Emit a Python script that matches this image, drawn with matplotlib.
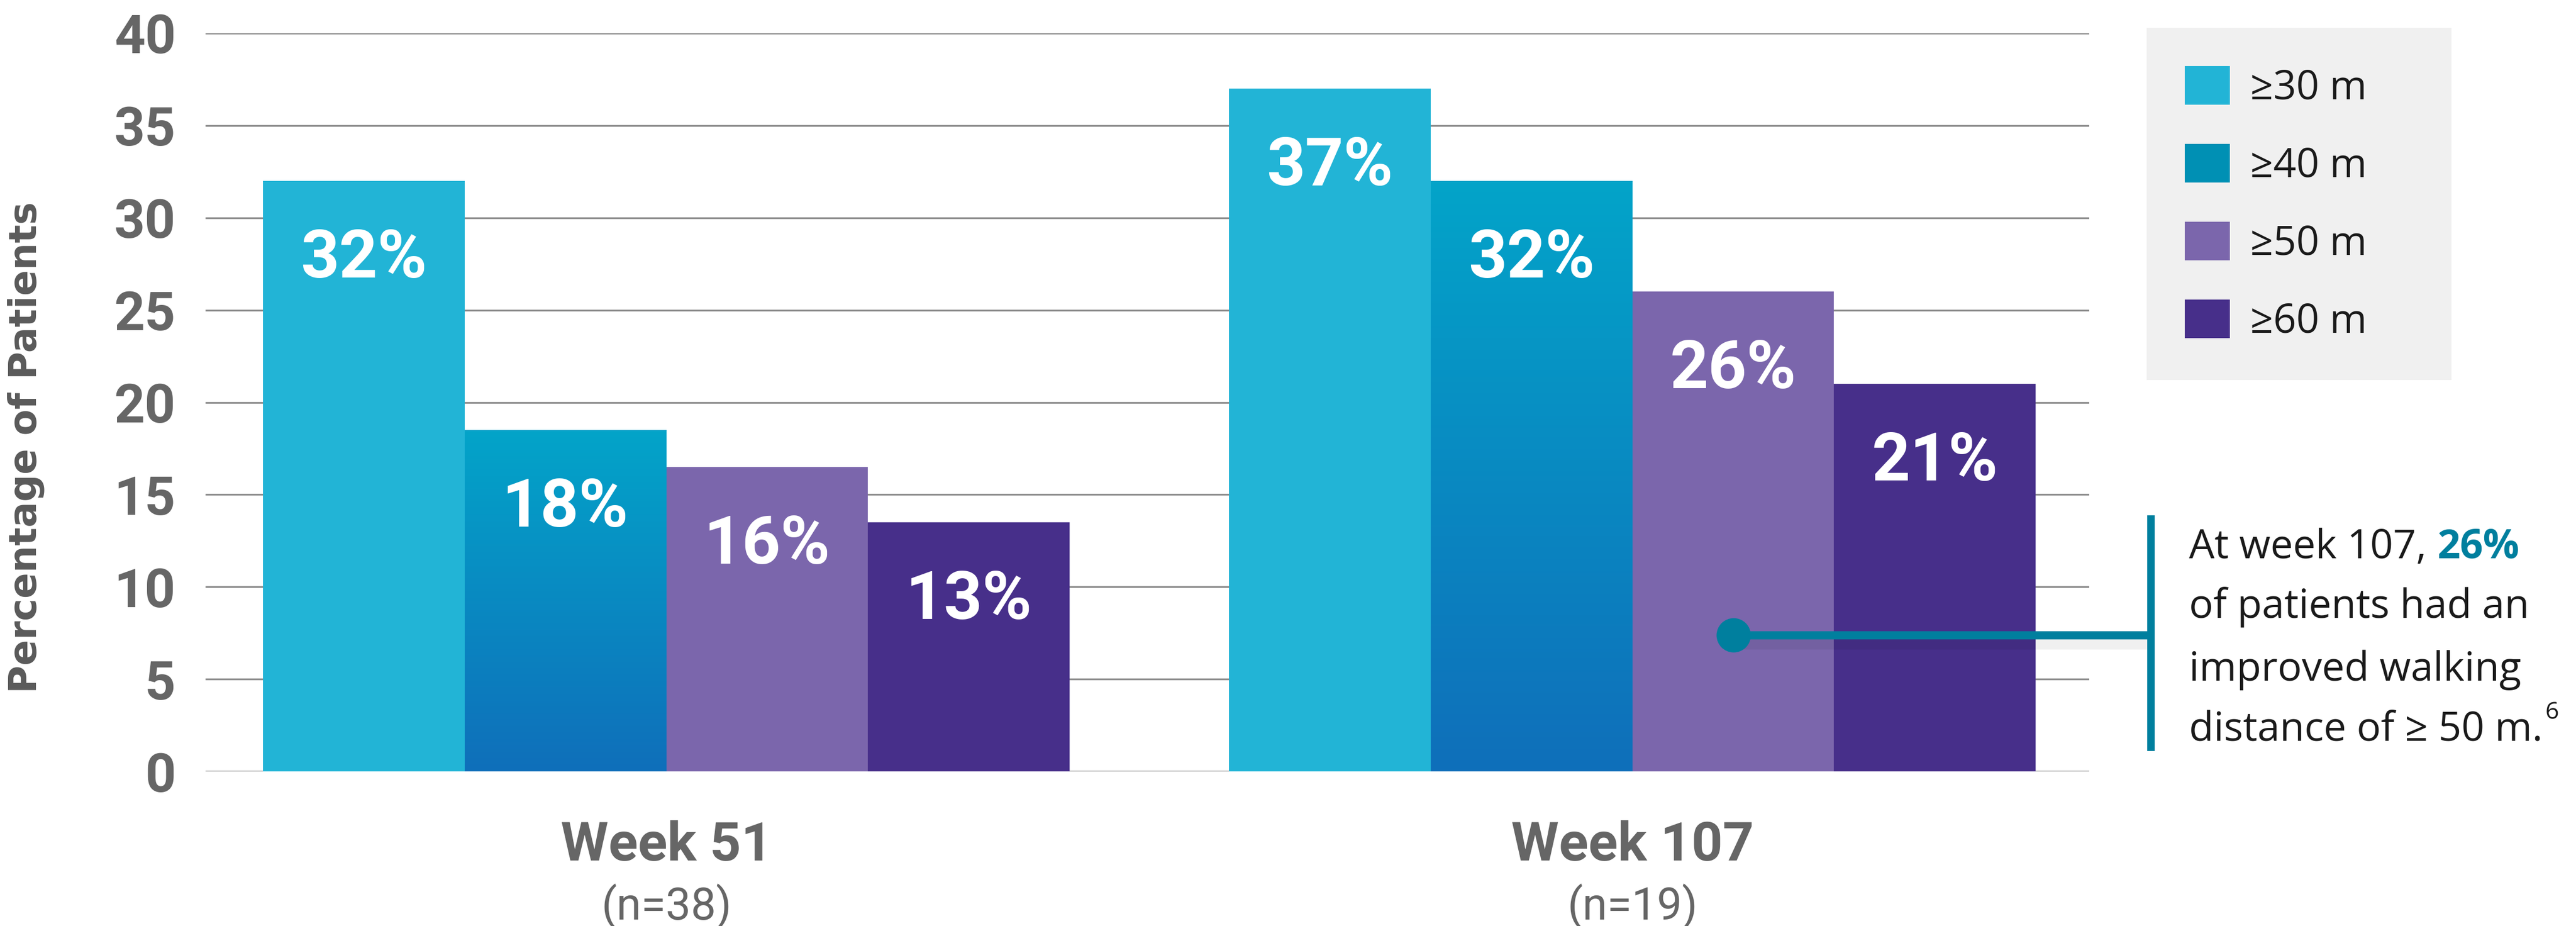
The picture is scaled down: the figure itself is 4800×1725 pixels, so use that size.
import matplotlib
matplotlib.use("Agg")
import matplotlib.pyplot as plt
import numpy as np
from matplotlib.colors import LinearSegmentedColormap

# ── Data ──
weeks = ["Week 51", "Week 107"]
n_labels = ["(n=38)", "(n=19)"]
series_labels = ["≥30 m", "≥40 m", "≥50 m", "≥60 m"]
week51 = [32, 18.5, 16.5, 13.5]
week107 = [37, 32, 26, 21]
week51_text = ["32%", "18%", "16%", "13%"]
week107_text = ["37%", "32%", "26%", "21%"]
y_ticks = [0, 5, 10, 15, 20, 25, 30, 35, 40]

# ── Style ──
COLORS = ["#22B4D6", "#0090B4", "#7B66AC", "#472F8A"]
GRAD_TOP, GRAD_BOT = "#03A4C9", "#0F6FBA"
GRID_C = "#8c8c8c"
GRAY_TXT = "#666666"
TEAL = "#007F9E"
DARK = "#1a1a1a"
W, H, DPI = 4800, 1725, 100
BAR_W = 0.2088


def px(x, y):
    # pixel (from top-left) -> figure fraction
    return x / W, 1 - y / H


fig = plt.figure(figsize=(W / DPI, H / DPI), dpi=DPI)
fig.patch.set_facecolor("white")
ax = fig.add_axes([383 / W, 288 / H, (3893 - 383) / W, (1437 - 62) / H])

x = np.arange(len(weeks))
values = np.array([week51, week107])
texts = [week51_text, week107_text]

containers = []
for i, lab in enumerate(series_labels):
    pos = x + (i - 1.5) * BAR_W
    bc = ax.bar(pos, values[:, i], BAR_W, color=COLORS[i], label=lab,
                zorder=2, linewidth=0)
    containers.append(bc)
    for j, rect in enumerate(bc):
        ax.text(rect.get_x() + rect.get_width() / 2, rect.get_height() - 5.23,
                texts[j][i], ha="center", va="baseline", color="white",
                fontsize=90, fontweight="bold", family="Roboto", zorder=4)

# gradient on the ≥40 m bars
cmap = LinearSegmentedColormap.from_list("g40", [GRAD_BOT, GRAD_TOP])
for rect in containers[1]:
    x0, h = rect.get_x(), rect.get_height()
    im = ax.imshow(np.linspace(0, 1, 256).reshape(-1, 1), cmap=cmap,
                   origin="lower", aspect="auto", zorder=3,
                   extent=(x0, x0 + rect.get_width(), 0, h))
    im.set_clip_path(rect)

ax.set_xlim(-0.477, 1.473)
ax.set_ylim(0, 40)
ax.set_yticks(y_ticks)
ax.set_xticks([])
ax.yaxis.grid(True, color=GRID_C, linewidth=2.4)
ax.set_axisbelow(True)
for s in ax.spines.values():
    s.set_visible(False)
ax.tick_params(axis="y", length=0, pad=40, labelsize=72, labelcolor=GRAY_TXT)
for t in ax.get_yticklabels():
    t.set_fontweight("bold")
    t.set_family("Roboto")

# x labels
xt = ax.get_xaxis_transform()
for j, (wk, nl) in enumerate(zip(weeks, n_labels)):
    ax.text(x[j], -(1603 - 1437) / 1375, wk, transform=xt, ha="center",
            va="baseline", fontsize=73, fontweight="bold", color=GRAY_TXT,
            family="Roboto")
    ax.text(x[j], -(1713 - 1437) / 1375, nl, transform=xt, ha="center",
            va="baseline", fontsize=60, color=GRAY_TXT, family="Roboto")

# y label
fig.text(*px(48, 833), "Percentage of Patients", rotation=90, ha="center",
         va="center", fontsize=51, fontweight="bold", color="#5a5a5a",
         family="DejaVu Sans")

# legend
leg = ax.legend(handles=containers, loc="upper left",
                bbox_to_anchor=(4000 / W, 1 - 52 / H, 568 / W, 0),
                bbox_transform=fig.transFigure, mode="expand",
                prop={"family": ["Open Sans", "DejaVu Sans"], "size": 54},
                frameon=True, fancybox=False, facecolor="#F0F0F0",
                edgecolor="none", framealpha=1, borderpad=0.95,
                handlelength=1.12, handleheight=1.1, handletextpad=0.5,
                labelspacing=0.87, borderaxespad=0)
for t in leg.get_texts():
    t.set_color(DARK)

# annotation: dot on the ≥50 m bar of week 107 with leader line
dot_x = x[1] + 0.5 * BAR_W
dot_y = 7.38
bar_x = 1.537
ax.plot([dot_x, bar_x], [dot_y - 0.4, dot_y - 0.4], color="#000000",
        alpha=0.06, linewidth=18, solid_capstyle="butt", zorder=5, clip_on=False)
ax.plot([dot_x, bar_x], [dot_y, dot_y], color=TEAL, linewidth=11,
        solid_capstyle="butt", zorder=6, clip_on=False)
ax.plot([dot_x], [dot_y], "o", color=TEAL, markersize=45, zorder=7,
        clip_on=False)
ax.plot([bar_x, bar_x], [1.1, 13.87], color=TEAL, linewidth=10,
        solid_capstyle="butt", zorder=6, clip_on=False)

fam = ["Open Sans", "DejaVu Sans"]
fs = 54
tx = 4079
lines = ["At week 107, ", "of patients had an", "improved walking",
         "distance of ≥ 50 m."]
baselines = [1040, 1151, 1268, 1379]
renderer = fig.canvas.get_renderer()
objs = []
for ln, by in zip(lines, baselines):
    objs.append(fig.text(*px(tx, by), ln, ha="left", va="baseline",
                         fontsize=fs, color=DARK, family=fam))
bb = objs[0].get_window_extent(renderer)
fig.text(bb.x1 / W, 1 - baselines[0] / H, "26%", ha="left", va="baseline",
         fontsize=fs, color=TEAL, fontweight="bold", family=fam)
bb = objs[3].get_window_extent(renderer)
fig.text(bb.x1 / W + 0.001, 1 - (baselines[3] - 40) / H, "6", ha="left",
         va="baseline", fontsize=32, color=DARK, family=fam)

fig.savefig("out.png", dpi=DPI, facecolor=fig.get_facecolor())
